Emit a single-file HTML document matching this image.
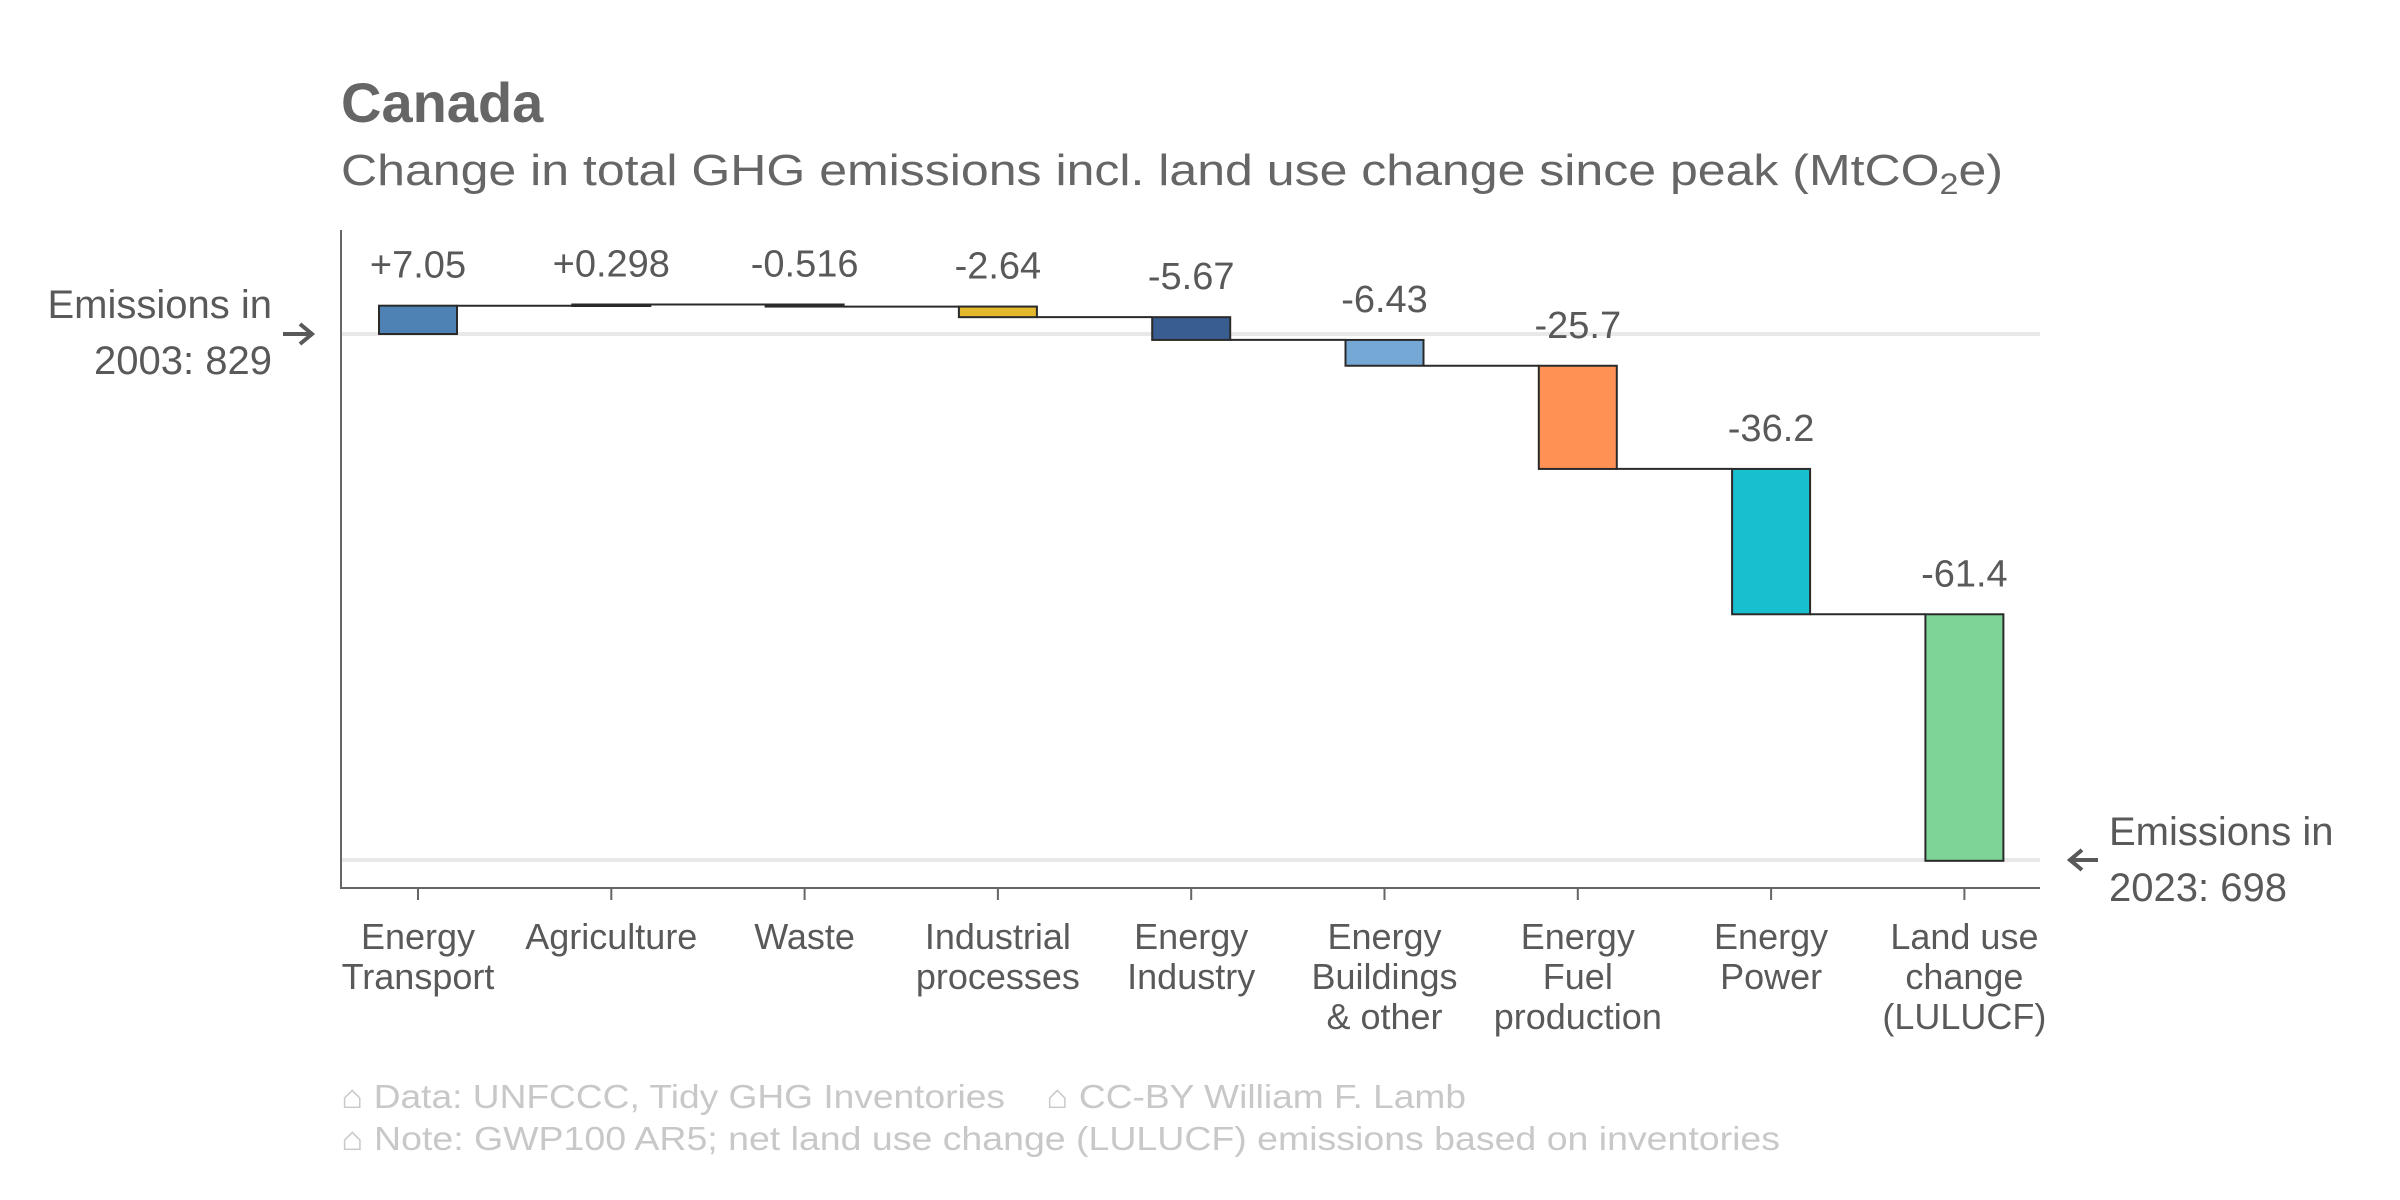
<!DOCTYPE html>
<html><head><meta charset="utf-8"><style>
html,body{margin:0;padding:0;background:#fff;}
svg{display:block;font-family:"Liberation Sans",Arial,sans-serif;}
</style></head><body>
<svg id="chart" width="2400" height="1200" viewBox="0 0 2400 1200">
<text x="341" y="122" font-size="56" font-weight="bold" fill="#666">Canada</text>
<text x="341" y="185" font-size="44" fill="#666" textLength="1662" lengthAdjust="spacingAndGlyphs">Change in total GHG emissions incl. land use change since peak (MtCO<tspan font-size="30" dy="9">2</tspan><tspan dy="-9">e)</tspan></text>
<g id="grid"></g>
<g id="bars"></g>
<g id="axes"></g>
<g id="labels"></g>
<text x="341" y="1108" font-size="33" fill="#c8c8c8" textLength="1125" lengthAdjust="spacingAndGlyphs">⌂ Data: UNFCCC, Tidy GHG Inventories&#160;&#160;&#160; ⌂ CC-BY William F. Lamb</text>
<text x="341" y="1150" font-size="33" fill="#c8c8c8" textLength="1439" lengthAdjust="spacingAndGlyphs">⌂ Note: GWP100 AR5; net land use change (LULUCF) emissions based on inventories</text>
</svg>
<script>
const categories = [["Energy","Transport"],["Agriculture"],["Waste"],["Industrial","processes"],["Energy","Industry"],["Energy","Buildings","& other"],["Energy","Fuel","production"],["Energy","Power"],["Land use","change","(LULUCF)"]];
const changes = [7.05, 0.298, -0.516, -2.64, -5.67, -6.43, -25.7, -36.2, -61.4];
const valueLabels = ["+7.05","+0.298","-0.516","-2.64","-5.67","-6.43","-25.7","-36.2","-61.4"];
const colors = ["#4e81b4","#2e5e8e","#3c3c3c","#e3b82c","#3a5d91","#76a8d6","#ff9155","#18bfcf","#7ed396"];
const startValue = 829;
const endValue = 698;
const startYear = 2003;
const endYear = 2023;

const NS = "http://www.w3.org/2000/svg";
const y = v => 334 + (829 - v) * 4.015;
const x = i => 418 + i * 193.3;
const bw = 78;
function mk(tag, attrs, parent){const e=document.createElementNS(NS,tag);for(const k in attrs)e.setAttribute(k,attrs[k]);parent.appendChild(e);return e;}
const grid=document.getElementById('grid'), bars=document.getElementById('bars'), axes=document.getElementById('axes'), labels=document.getElementById('labels');

let g1=mk('line',{x1:341,x2:2040,y1:y(startValue),y2:y(startValue),stroke:'#e8e8e8','stroke-width':4},grid);


let g2=mk('line',{x1:341,x2:2040,y1:y(endValue),y2:y(endValue),stroke:'#e8e8e8','stroke-width':4},grid);



let cum = startValue;
for(let i=0;i<changes.length;i++){
  const a=cum, b=cum+changes[i];
  const top=y(Math.max(a,b)), bot=y(Math.min(a,b));
  const r=mk('rect',{x:x(i)-bw/2,y:top,width:bw,height:Math.max(bot-top,1.5),fill:colors[i],stroke:'#2a2a2a','stroke-width':2},bars);
  
  
  if(i<changes.length-1){
    const c=mk('line',{x1:x(i)+bw/2,x2:x(i+1)-bw/2,y1:y(b),y2:y(b),stroke:'#2a2a2a','stroke-width':2},bars);
    
    
  }
  const t=mk('text',{x:x(i),y:top-28,'text-anchor':'middle','font-size':38,fill:'#595959'},labels);
  t.textContent=valueLabels[i];
  
  
  const tk=mk('line',{x1:x(i),x2:x(i),y1:888,y2:900,stroke:'#666','stroke-width':2},axes);
  
  
  const cl=mk('text',{x:x(i),y:949,'text-anchor':'middle','font-size':36,fill:'#595959'},labels);
  
  
  categories[i].forEach((ln,k)=>{const ts=mk('tspan',{x:x(i),dy:k?40:0},cl);ts.textContent=ln;});
  cum=b;
}
let ya=mk('line',{x1:341,x2:341,y1:230,y2:889,stroke:'#666','stroke-width':2},axes);


let xa=mk('line',{x1:340,x2:2040,y1:888,y2:888,stroke:'#666','stroke-width':2},axes);



let sa=mk('text',{x:272,y:318,'text-anchor':'end','font-size':40,fill:'#595959'},labels);


let s1=mk('tspan',{x:272},sa);s1.textContent='Emissions in';
let s2=mk('tspan',{x:272,dy:56},sa);s2.textContent=startYear+': '+startValue;
let arr1=mk('path',{d:`M283 ${y(startValue)} H312 M300 ${y(startValue)-10} L312 ${y(startValue)} L300 ${y(startValue)+10}`,stroke:'#595959','stroke-width':4,fill:'none'},labels);



let ea=mk('text',{x:2109,y:845,'font-size':40,fill:'#595959'},labels);


let e1=mk('tspan',{x:2109},ea);e1.textContent='Emissions in';
let e2=mk('tspan',{x:2109,dy:56},ea);e2.textContent=endYear+': '+endValue;
let arr2=mk('path',{d:`M2098 ${y(endValue)} H2070 M2082 ${y(endValue)-10} L2070 ${y(endValue)} L2082 ${y(endValue)+10}`,stroke:'#595959','stroke-width':4,fill:'none'},labels);


</script>
</body></html>
